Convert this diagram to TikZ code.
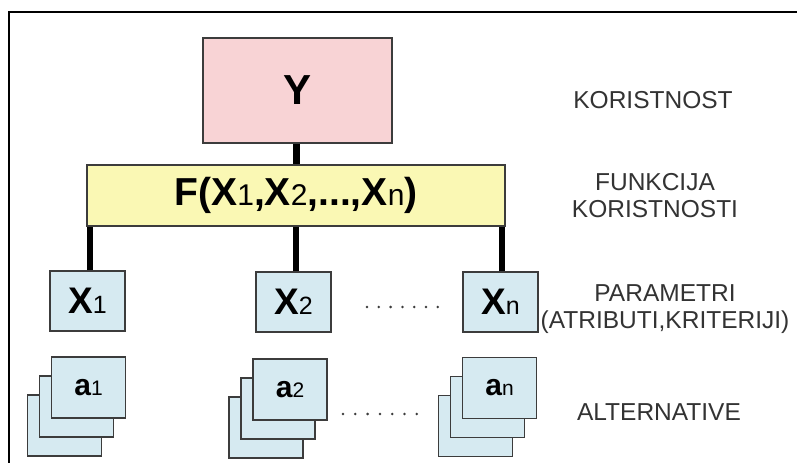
\documentclass[tikz,border=0pt]{standalone}
\usepackage{fontspec}
\setmainfont{Liberation Sans}
\definecolor{pinkfill}{HTML}{F8D3D5}
\definecolor{yellowfill}{HTML}{FAF8B4}
\definecolor{bluefill}{HTML}{D6EAF1}
\definecolor{edge}{HTML}{3C3C3C}
\definecolor{labelgray}{HTML}{333333}
% small upright index digit/letter set on the baseline
\newcommand\idx[2]{{\mdseries\fontsize{#1bp}{#1bp}\selectfont #2}}
\begin{document}
\begin{tikzpicture}[x=1bp,y=-1bp,
  box/.style={draw=edge,line width=1.1bp,inner sep=0pt,anchor=center},
  ybox/.style={box,fill=pinkfill,minimum width=189bp,minimum height=105bp},
  fbox/.style={box,fill=yellowfill,minimum width=418bp,minimum height=61bp},
  xbox/.style={box,fill=bluefill,minimum width=75bp,minimum height=60bp},
  abox/.style={box,fill=bluefill,minimum width=74bp,minimum height=61bp},
  conn/.style={line width=6.5bp,black},
  side/.style={text=labelgray,align=center,font=\fontsize{24.5bp}{27bp}\selectfont},
  dot/.style={fill=edge}]
\useasboundingbox (0,0) rectangle (797,463);
\fill[white] (0,0) rectangle (797,463);
% outer frame
\draw[line width=2bp] (9,470) -- (9,12) -- (805,12);

% utility and utility function
\node[ybox] (Y) at (297.5,90.5) {\fontsize{42bp}{42bp}\selectfont\bfseries Y};
\node[fbox] (F) at (296,195.5)
  {\fontsize{39bp}{39bp}\selectfont\bfseries F(X\idx{30}{1},X\idx{30}{2},...,X\idx{30}{n})};

% parameters
\node[xbox] (X1) at (87.5,301) {\fontsize{37bp}{37bp}\selectfont\bfseries X\idx{25}{1}};
\node[xbox] (X2) at (293.5,302) {\fontsize{37bp}{37bp}\selectfont\bfseries X\idx{25}{2}};
\node[xbox] (Xn) at (500.5,302) {\fontsize{37bp}{37bp}\selectfont\bfseries X\idx{25}{n}};

% connectors
\draw[conn] (Y.south) ++(-1,0) coordinate (ys) -- (ys |- F.north);
\draw[conn] ([xshift=2.5bp]X1.north) coordinate (x1t) -- (x1t |- F.south);
\draw[conn] ([xshift=2.5bp]X2.north) coordinate (x2t) -- (x2t |- F.south);
\draw[conn] ([xshift=1.5bp]Xn.north) coordinate (xnt) -- (xnt |- F.south);

% alternatives: stacks of three sheets
\foreach \n/\cx/\cy in {1/88.5/387.5, 2/290/389.5, n/499.5/388} {
  \node[abox] (a\n c) at (\cx-24,\cy+38) {};
  \node[abox] (a\n b) at (\cx-12,\cy+19) {};
  \node[abox] (a\n) at (\cx,\cy) {\fontsize{30bp}{30bp}\selectfont\bfseries a\idx{21}{\n}};
}

% ellipsis dots
\foreach \i in {0,...,6} {
  \fill[dot] (367+11.8*\i,307) circle (1.4bp);
  \fill[dot] (343+12.3*\i,414) circle (1.4bp);
}

% level captions
\node[side] (lk) at (653,100) {KORISTNOST};
\node[side] (lf) at (655,195.5) {FUNKCIJA\\KORISTNOSTI};
\node[side] (lp) at (665,309.5) {PARAMETRI\\(ATRIBUTI,KRITERIJI)};
\node[side] (la) at (659,412) {ALTERNATIVE};
\end{tikzpicture}
\end{document}
